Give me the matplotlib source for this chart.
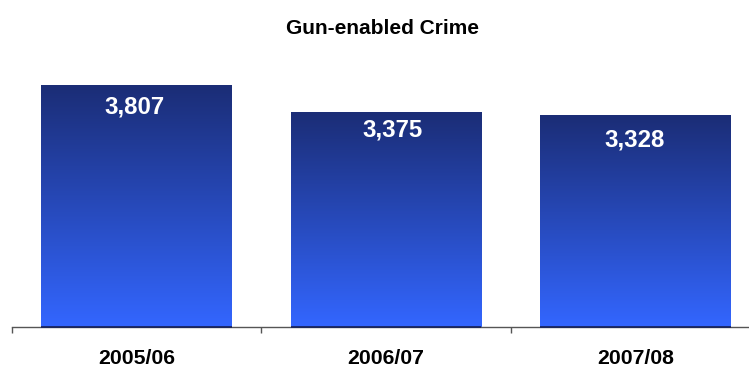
import numpy as np
import matplotlib.pyplot as plt
from matplotlib.colors import LinearSegmentedColormap

# Gun-enabled crime per financial year
years = ['2005/06', '2006/07', '2007/08']
crimes = [3807, 3375, 3328]

# label nudges (points): horizontal, drop below the bar top
label_dx = [-1.8, 4.8, -0.4]
label_drop = [20.2, 17.1, 22.5]

plt.rcParams['font.family'] = ['Liberation Sans', 'DejaVu Sans']

fig = plt.figure(figsize=(7.49, 3.67), dpi=100)
ax = fig.add_axes([12 / 749, 40 / 367, 748 / 749, 287 / 367])

x = np.arange(len(years))
bars = ax.bar(x, crimes, width=0.766, color='none', zorder=2)

# vertical gradient: bright blue at the base, navy at the top
grad = LinearSegmentedColormap.from_list('navy_blue', ['#3366ff', '#1b2d76'])
ramp = np.linspace(0, 1, 256).reshape(-1, 1)
for b in bars:
    x0, y0 = b.get_x(), b.get_y()
    w, h = b.get_width(), b.get_height()
    ax.imshow(ramp, cmap=grad, aspect='auto', origin='lower',
              extent=(x0, x0 + w, y0, y0 + h), zorder=2, interpolation='bilinear')
    # dark base edge of each bar
    ax.plot([x0, x0 + w], [y0, y0], color='#14205a', lw=1.2, zorder=4,
            solid_capstyle='butt', clip_on=False)

for xi, v, dx, dy in zip(x, crimes, label_dx, label_drop):
    ax.annotate(f'{v:,}', (xi, v), xytext=(dx, -dy), textcoords='offset points',
                ha='center', va='baseline', color='white', fontsize=17.3,
                fontweight='bold', zorder=3)

ax.set_xlim(-0.5, 2.5)
ax.set_ylim(0, 287 * 3807 / 242)

# boundary ticks between categories, labels centred on the bars
ax.set_xticks(np.arange(len(years) + 1) - 0.5)
ax.set_xticklabels([])
ax.tick_params(axis='x', which='major', direction='out', length=4.5, width=1, color='#555555')
ax.set_xticks(x, minor=True)
ax.set_xticklabels(years, minor=True, fontsize=15.3, fontweight='bold')
ax.tick_params(axis='x', which='minor', length=0, pad=16)
ax.set_yticks([])

for s in ['left', 'top', 'right']:
    ax.spines[s].set_visible(False)
ax.spines['bottom'].set_color('#555555')
ax.spines['bottom'].set_linewidth(1)

fig.text(383 / 749, 1 - 34 / 367, 'Gun-enabled Crime', ha='center', va='baseline',
         fontsize=15, fontweight='bold')

fig.savefig('out.png', dpi=100)
